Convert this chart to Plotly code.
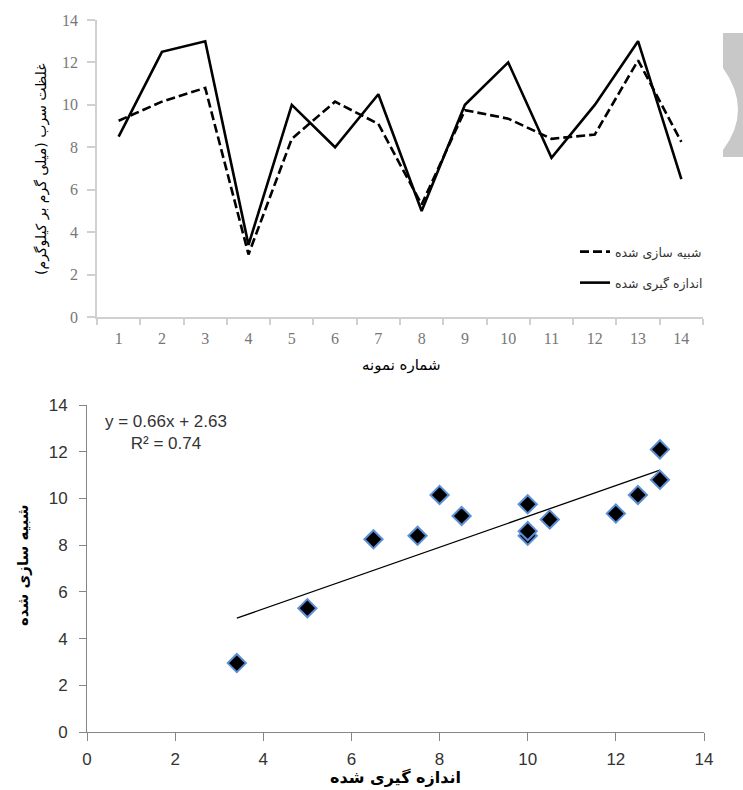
import plotly.graph_objects as go

# ---------------- data ----------------
samples = [str(i) for i in range(1, 15)]
measured = [8.5, 12.5, 13.0, 3.4, 10.0, 8.0, 10.5, 5.0, 10.0, 12.0, 7.5, 10.0, 13.0, 6.5]
simulated = [9.25, 10.15, 10.8, 2.95, 8.4, 10.15, 9.1, 5.3, 9.75, 9.35, 8.4, 8.6, 12.1, 8.25]
trend_slope = 0.66
trend_intercept = 2.63
r_squared = 0.74

name_sim = "شبیه سازی شده"
name_meas = "اندازه گیری شده"
top_ytitle = "غلظت سرب (میلی گرم بر کیلوگرم)"
top_xtitle = "شماره نمونه"
bot_ytitle = "شبیه سازی شده"
bot_xtitle = "اندازه گیری شده"

W, H = 743, 790


def px(x):
    return x / W


def py(y):
    return 1 - y / H


fig = go.Figure()

# ---------------- top line chart ----------------
fig.add_trace(go.Scatter(
    x=samples, y=simulated, mode="lines", name=name_sim,
    line=dict(color="black", width=2.6, dash="9px,4px"),
    xaxis="x", yaxis="y", legend="legend"))
fig.add_trace(go.Scatter(
    x=samples, y=measured, mode="lines", name=name_meas,
    line=dict(color="black", width=2.6),
    xaxis="x", yaxis="y", legend="legend2"))

# ---------------- bottom scatter ----------------
tx = [min(measured), max(measured)]
ty = [trend_slope * v + trend_intercept for v in tx]
fig.add_trace(go.Scatter(
    x=tx, y=ty, mode="lines", line=dict(color="black", width=1.3),
    xaxis="x2", yaxis="y2", showlegend=False, hoverinfo="skip"))
fig.add_trace(go.Scatter(
    x=measured, y=simulated, mode="markers",
    marker=dict(symbol="diamond", size=14, color="black",
                line=dict(color="#5b8fd6", width=2)),
    xaxis="x2", yaxis="y2", showlegend=False, cliponaxis=False))

top_tick_font = dict(family="Liberation Serif", size=16, color="#777777")
bot_tick_font = dict(family="Liberation Sans", size=17, color="#333333")

fig.update_layout(
    width=W, height=H,
    margin=dict(l=0, r=0, t=0, b=0, autoexpand=False),
    paper_bgcolor="white", plot_bgcolor="white",
    showlegend=True,
    xaxis=dict(domain=[px(97), px(703)], anchor="y", type="category",
               range=[-0.5, 13.5], tickson="boundaries", automargin=False,
               ticks="outside", ticklen=6, tickcolor="#d0d0d0", tickwidth=1.5,
               showline=True, linecolor="#d0d0d0", linewidth=1.5,
               showgrid=False, zeroline=False, tickfont=top_tick_font,
               ticklabelstandoff=6),
    yaxis=dict(domain=[py(317), py(20)], anchor="x", range=[0, 14], dtick=2,
               automargin=False,
               ticks="outside", ticklen=8, tickcolor="#d0d0d0", tickwidth=1.5,
               showline=True, linecolor="#d0d0d0", linewidth=1.5,
               showgrid=False, zeroline=False, tickfont=top_tick_font,
               ticklabelstandoff=6),
    xaxis2=dict(domain=[px(87), px(704)], anchor="y2", range=[0, 14], dtick=2,
                automargin=False,
                ticks="outside", ticklen=8, tickcolor="#868686", tickwidth=1,
                showline=True, linecolor="#868686", linewidth=1,
                showgrid=False, zeroline=False, tickfont=bot_tick_font,
                ticklabelstandoff=4),
    yaxis2=dict(domain=[py(732), py(405)], anchor="x2", range=[0, 14], dtick=2,
                automargin=False,
                ticks="outside", ticklen=7, tickcolor="#868686", tickwidth=1,
                showline=True, linecolor="#868686", linewidth=1,
                showgrid=False, zeroline=False, tickfont=bot_tick_font,
                ticklabelstandoff=8),
    legend=dict(x=px(575), y=py(237), xanchor="left", yanchor="top",
                bgcolor="rgba(0,0,0,0)",
                font=dict(family="DejaVu Sans", size=12.5, color="#333333")),
    legend2=dict(x=px(575), y=py(268), xanchor="left", yanchor="top",
                 bgcolor="rgba(0,0,0,0)",
                 font=dict(family="DejaVu Sans", size=12.5, color="#333333")),
)

ann = [
    dict(text=top_ytitle, x=px(41), y=py(169), textangle=-90,
         font=dict(family="DejaVu Sans", size=14, color="black")),
    dict(text=top_xtitle, x=px(401), y=py(365),
         font=dict(family="DejaVu Sans", size=15, color="black")),
    dict(text="<b>" + bot_ytitle + "</b>", x=px(23), y=py(565), textangle=-90,
         font=dict(family="DejaVu Sans", size=15, color="black")),
    dict(text="<b>" + bot_xtitle + "</b>", x=px(395), y=py(777),
         font=dict(family="DejaVu Sans", size=16, color="black")),
    dict(text="y = %.2fx + %.2f<br>R² = %.2f" % (trend_slope, trend_intercept, r_squared),
         x=px(166), y=py(432), align="center",
         font=dict(family="Liberation Sans", size=17, color="#333333")),
]
for a in ann:
    a.update(xref="paper", yref="paper", showarrow=False,
             xanchor="center", yanchor="middle")
fig.update_layout(annotations=ann)

# decorative gray crescent at the right edge
path = "M %f,%f L %f,%f L %f,%f L %f,%f L %f,%f Q %f,%f %f,%f Z" % (
    px(723), py(33), px(743), py(33), px(743), py(157), px(723), py(157),
    px(723), py(150), px(753), py(110), px(723), py(68))
fig.add_shape(type="path", path=path, xref="paper", yref="paper",
              fillcolor="#c8c8c8", line=dict(width=0), layer="below")

fig.write_html(
    "out.html",
    config={"displayModeBar": False},
    post_script="document.body.style.margin='0';"
                "document.body.style.overflow='hidden';"
                "document.documentElement.style.overflow='hidden';")
